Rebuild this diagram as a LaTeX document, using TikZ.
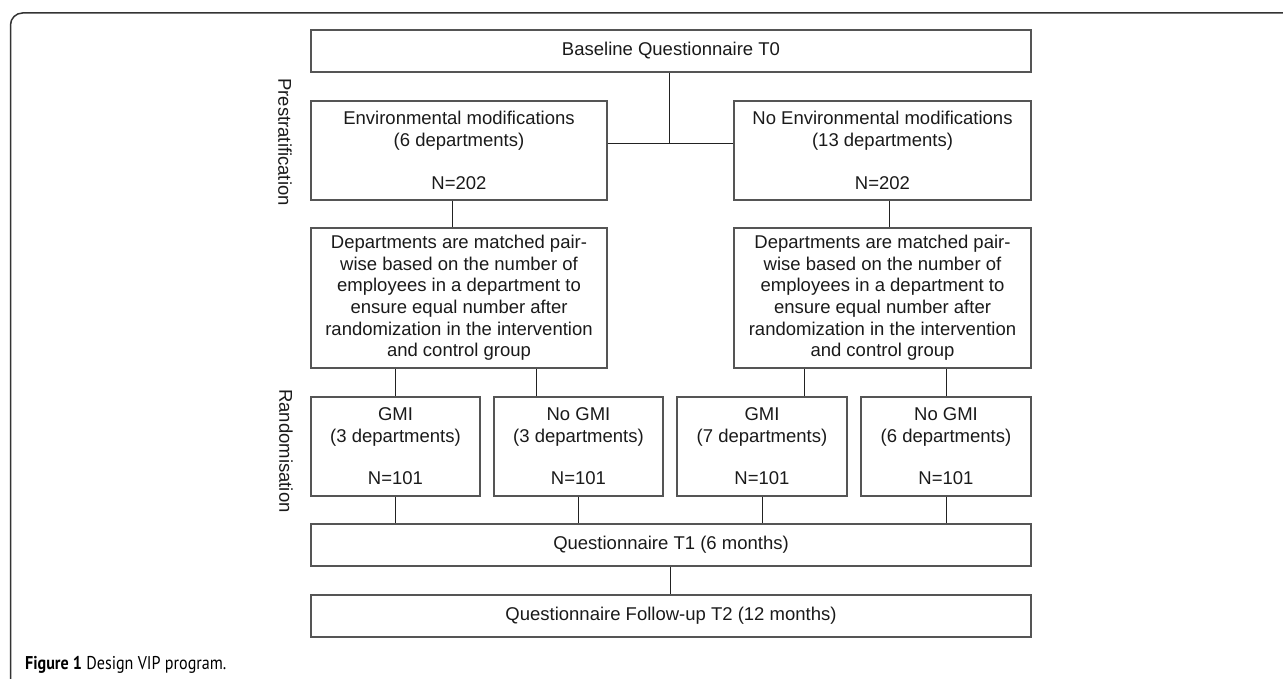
\documentclass[tikz,border=0pt]{standalone}
\usepackage{fontspec}
\setmainfont{Liberation Sans}
\newfontfamily\capfont{PT Sans}
\begin{document}
\begin{tikzpicture}[x=1pt,y=-1pt,
  box/.style={draw=boxgray,line width=1.1pt,inner sep=0pt,align=center,text=textgray,
    font=\fontsize{18.5}{21.6}\selectfont},
  conn/.style={draw=linegray,line width=1pt},
  side/.style={rotate=-90,text=textgray,font=\fontsize{18.5}{21.6}\selectfont,inner sep=0pt}]
\definecolor{boxgray}{HTML}{555555}
\definecolor{linegray}{HTML}{222222}
\definecolor{textgray}{HTML}{1A1A1A}
\definecolor{framegray}{HTML}{333333}
\useasboundingbox (0,0) rectangle (1283,679);
% outer frame (open on right and bottom)
\draw[framegray,line width=1.5pt,rounded corners=12pt] (10.5,679) -- (10.5,13) -- (1283,13);
% side labels
\node[side] (pre) at (285,142) {Prestratification};
\node[side] (rand) at (286,451) {Randomisation};
% boxes
\node[box,minimum width=720pt,minimum height=42pt] (base) at (671,51) {Baseline Questionnaire T0};
\node[box,minimum width=296pt,minimum height=99pt] (env) at (459,150.5) {Environmental modifications\\(6 departments)\\[21.6pt]N=202};
\node[box,minimum width=297pt,minimum height=99pt] (noenv) at (882.5,150.5) {No Environmental modifications\\(13 departments)\\[21.6pt]N=202};
\node[box,minimum width=296pt,minimum height=140pt] (dept1) at (459,298) {Departments are matched pair-\\wise based on the number of\\employees in a department to\\ensure equal number after\\randomization in the intervention\\and control group};
\node[box,minimum width=297pt,minimum height=140pt] (dept2) at (882.5,298) {Departments are matched pair-\\wise based on the number of\\employees in a department to\\ensure equal number after\\randomization in the intervention\\and control group};
\node[box,minimum width=169pt,minimum height=99pt] (g1) at (395.5,446.5) {GMI\\(3 departments)\\[21pt]N=101};
\node[box,minimum width=169pt,minimum height=99pt] (n1) at (578.5,446.5) {No GMI\\(3 departments)\\[21pt]N=101};
\node[box,minimum width=170pt,minimum height=99pt] (g2) at (762,446.5) {GMI\\(7 departments)\\[21pt]N=101};
\node[box,minimum width=170pt,minimum height=99pt] (n2) at (946,446.5) {No GMI\\(6 departments)\\[21pt]N=101};
\node[box,minimum width=720pt,minimum height=42pt] (t1) at (671,545) {Questionnaire T1 (6 months)};
\node[box,minimum width=720pt,minimum height=42pt] (t2) at (671,616) {Questionnaire Follow-up T2 (12 months)};
% caption
\node[anchor=base west,inner sep=0pt,text=black,font=\capfont\fontsize{18.5}{21}\selectfont] (cap) at (25,669) {\scalebox{0.87}[1]{\textbf{Figure 1} Design VIP program.}};
% connector x positions
\coordinate (j) at (669,144);
\coordinate (xa) at (452,0);
\coordinate (xb) at (889,0);
\coordinate (xc) at (536,0);
\coordinate (xd) at (804,0);
\coordinate (xe) at (670,0);
% connectors
\draw[conn] (base.south -| j) -- (j);
\draw[conn] (env.east |- j) -- (noenv.west |- j);
\draw[conn] (env.south -| xa) -- (dept1.north -| xa);
\draw[conn] (noenv.south -| xb) -- (dept2.north -| xb);
\draw[conn] (dept1.south -| g1.north) -- (g1.north);
\draw[conn] (dept1.south -| xc) -- (n1.north -| xc);
\draw[conn] (dept2.south -| xd) -- (g2.north -| xd);
\draw[conn] (dept2.south -| n2.north) -- (n2.north);
\draw[conn] (g1.south) -- (t1.north -| g1.south);
\draw[conn] (n1.south) -- (t1.north -| n1.south);
\draw[conn] (g2.south) -- (t1.north -| g2.south);
\draw[conn] (n2.south) -- (t1.north -| n2.south);
\draw[conn] (t1.south -| xe) -- (t2.north -| xe);
\end{tikzpicture}
\end{document}
